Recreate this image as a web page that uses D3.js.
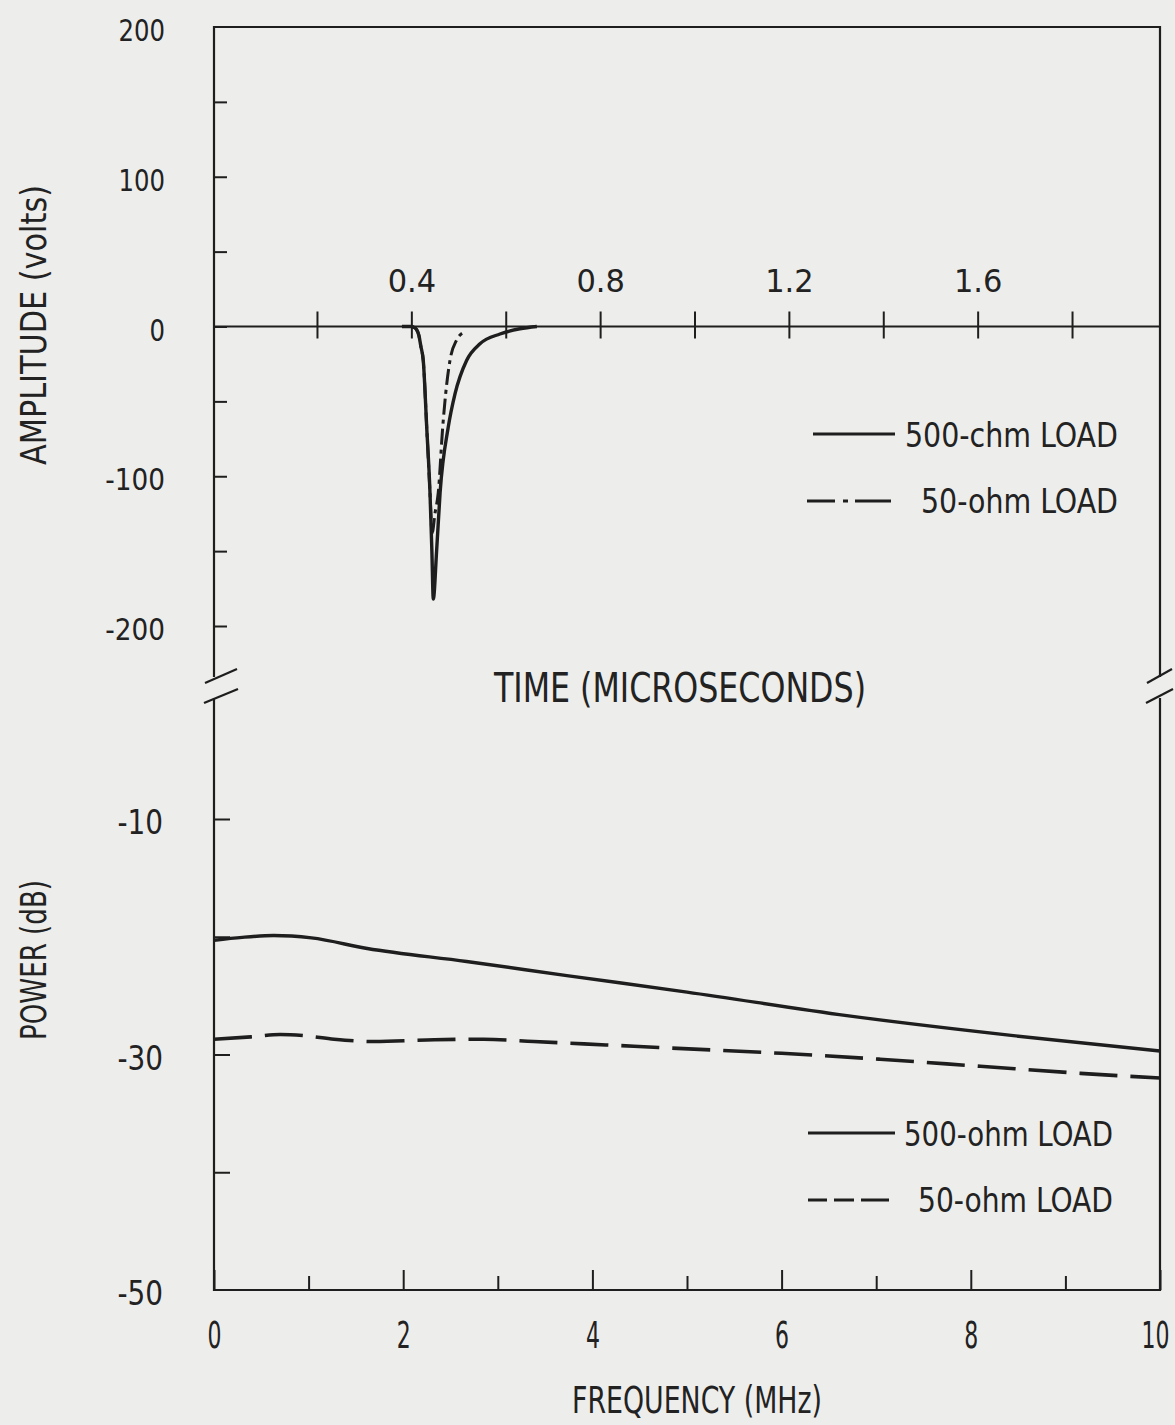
<!DOCTYPE html>
<html>
<head>
<meta charset="utf-8">
<script src="https://cdn.jsdelivr.net/npm/d3@7"></script>
<style>
  body { margin: 0; background: #ededeb; }
  svg { display: block; }
  text { font-family: "DejaVu Sans Condensed", "DejaVu Sans", "Liberation Sans", sans-serif; fill: #222; }
</style>
</head>
<body>
<div class="d3-container"></div>
<script>
// pulse response, time in microseconds, amplitude in volts
const pulseTime500 = [0.38, 0.400, 0.405, 0.411, 0.416, 0.420, 0.4253, 0.4325, 0.4395, 0.4435, 0.4465, 0.4535, 0.4609, 0.4783, 0.4925, 0.5173, 0.5455, 0.5878, 0.630, 0.666];
const pulseVolts500 = [0, 0, -0.5, -2, -6, -13, -23, -67, -111, -150, -182, -150, -111, -67, -45, -22.5, -11.5, -5, -1.5, 0];
const pulseTime50 = [0.400, 0.405, 0.411, 0.416, 0.420, 0.4253, 0.4325, 0.4395, 0.4440, 0.4500, 0.4570, 0.4665, 0.4727, 0.4819, 0.4960, 0.5100];
const pulseVolts50 = [0, -0.5, -2, -6, -13, -23, -67, -111, -138, -125, -111, -67, -45, -22.5, -9, -4];

// power spectrum, frequency in MHz, power in dB
const freq500 = [0, 0.3, 0.63, 1.03, 1.62, 2.67, 3.73, 5.0, 6.69, 8.45, 10];
const power500 = [-20.3, -20.05, -19.9, -20.1, -21.0, -22.1, -23.3, -24.7, -26.7, -28.4, -29.7];
const freq50 = [0, 0.39, 0.7, 0.95, 1.27, 1.69, 2.33, 2.85, 3.38, 3.91, 4.44, 4.96, 6.0, 7.04, 8.10, 9.16, 10];
const power50 = [-28.7, -28.5, -28.3, -28.4, -28.7, -28.9, -28.75, -28.7, -28.9, -29.1, -29.3, -29.5, -29.9, -30.4, -31.0, -31.6, -32.0];

// ticks and labels
const ampTicks = [150, 100, 50, 0, -50, -100, -150, -200];
const ampLabelValues = [200, 100, 0, -100, -200];
const ampLabels = ["200", "100", "0", "-100", "-200"];
const timeTicks = [0.2, 0.4, 0.6, 0.8, 1.0, 1.2, 1.4, 1.6, 1.8];
const timeLabels = {"0.4": "0.4", "0.8": "0.8", "1.2": "1.2", "1.6": "1.6"};
const powerTicks = [-10, -20, -30, -40];
const powerLabelValues = [-10, -30, -50];
const powerLabels = ["-10", "-30", "-50"];
const freqMinor = [1, 3, 5, 7, 9];
const freqMajor = [0, 2, 4, 6, 8, 10];
const legendTop = ["500-chm LOAD", "50-ohm LOAD"];
const legendBottom = ["500-ohm LOAD", "50-ohm LOAD"];

const width = 1175;
const height = 1425;
const left = 214, right = 1160;
const topPanel = {top: 27, bottom: 677};
const botPanel = {top: 698, bottom: 1290};

// narrow typewriter-like figures: width of a label from its characters
function labelWidth(s, digit) {
  let w = 0;
  for (const c of s) w += c === "-" ? digit * 0.85 : c === "." ? digit * 0.55 : digit;
  return w;
}

const svg = d3.select(".d3-container")
  .append("svg")
  .attr("width", width)
  .attr("height", height);

svg.append("rect").attr("width", width).attr("height", height).attr("fill", "#ededeb");

// scales
const x = d3.scaleLinear().domain([-0.0182, 1.9864]).range([left, right]);
const y = d3.scaleLinear().domain([200, -200]).range([27, 626]);
const xf = d3.scaleLinear().domain([0, 10]).range([left, right]);
const yp = d3.scaleLinear().domain([-10, -50]).range([819, 1290]);

const ink = "#1e1e1e";

// frame
const frame = svg.append("g").attr("stroke", ink).attr("stroke-width", 2.2).attr("fill", "none");
frame.append("path").attr("d", `M${left},${topPanel.bottom}V${topPanel.top}H${right}V${topPanel.bottom}`);
frame.append("path").attr("d", `M${left},${botPanel.top}V${botPanel.bottom}H${right}V${botPanel.top}`);
// axis break marks
[[left, -9, 23], [right, -13, 12]].forEach(([bx, a, b]) => {
  frame.append("line").attr("x1", bx + a).attr("y1", 683).attr("x2", bx + b).attr("y2", 669);
  frame.append("line").attr("x1", bx + a - 1).attr("y1", 703).attr("x2", bx + b + 1).attr("y2", 689);
});

// amplitude axis
svg.append("g")
  .attr("transform", `translate(${left},0)`)
  .call(d3.axisLeft(y).tickValues(ampTicks).tickSize(-13).tickFormat(""))
  .call(g => g.select(".domain").remove());
svg.append("g").selectAll("text")
  .data(ampLabelValues)
  .join("text")
  .attr("x", 165)
  .attr("y", d => y(d) + 14)
  .attr("text-anchor", "end")
  .attr("font-size", 30)
  .attr("textLength", (d, i) => labelWidth(ampLabels[i], 15.5))
  .attr("lengthAdjust", "spacingAndGlyphs")
  .text((d, i) => ampLabels[i]);

// zero line with time ticks
svg.append("line")
  .attr("x1", left).attr("x2", right)
  .attr("y1", y(0)).attr("y2", y(0))
  .attr("stroke", ink).attr("stroke-width", 2.2);
const timeAxis = svg.append("g")
  .attr("transform", `translate(0,${y(0)})`)
  .call(d3.axisTop(x).tickValues(timeTicks).tickSize(15).tickPadding(20)
    .tickFormat(d => timeLabels[d3.format(".1f")(d)] || ""))
  .call(g => g.select(".domain").remove());
svg.append("g")
  .attr("transform", `translate(0,${y(0)})`)
  .call(d3.axisBottom(x).tickValues(timeTicks).tickSize(12).tickFormat(""))
  .call(g => g.select(".domain").remove());

// power axis
svg.append("g")
  .attr("transform", `translate(${left},0)`)
  .call(d3.axisLeft(yp).tickValues(powerTicks).tickSize(-16).tickFormat(""))
  .call(g => g.select(".domain").remove());
svg.append("g").selectAll("text")
  .data(powerLabelValues)
  .join("text")
  .attr("x", 163)
  .attr("y", d => yp(d) + 15)
  .attr("text-anchor", "end")
  .attr("font-size", 34)
  .attr("textLength", (d, i) => labelWidth(powerLabels[i], 16))
  .attr("lengthAdjust", "spacingAndGlyphs")
  .text((d, i) => powerLabels[i]);

// frequency axis
svg.append("g")
  .attr("transform", `translate(0,${botPanel.bottom})`)
  .call(d3.axisBottom(xf).tickValues(freqMinor).tickSize(-14).tickFormat(""))
  .call(g => g.select(".domain").remove());
const freqAxis = svg.append("g")
  .attr("transform", `translate(0,${botPanel.bottom})`)
  .call(d3.axisBottom(xf).tickValues(freqMajor).tickSize(-20).tickPadding(32))
  .call(g => g.select(".domain").remove());

// axis styling
svg.selectAll(".tick line").attr("stroke", ink).attr("stroke-width", 2);
timeAxis.selectAll(".tick text")
  .attr("font-family", null).attr("font-size", null)
  .style("font-size", "32px").style("fill", "#222")
  .attr("textLength", function() { const s = this.textContent; return s ? labelWidth(s, 19) : null; })
  .attr("lengthAdjust", "spacingAndGlyphs");
// frequency digits are tall and narrow: squeeze them horizontally about the tick
freqAxis.selectAll(".tick text")
  .attr("font-family", null).attr("font-size", null)
  .style("font-size", "37px").style("fill", "#222")
  .attr("transform", function(d) {
    const sx = labelWidth(this.textContent, 14) / this.getComputedTextLength();
    return `translate(${d === 10 ? -5 : 0},0) scale(${sx},1)`;
  });

// curves
const linePulse = d3.line().x(d => x(d[0])).y(d => y(d[1])).curve(d3.curveMonotoneX);
const linePower = d3.line().x(d => xf(d[0])).y(d => yp(d[1])).curve(d3.curveMonotoneX);

svg.append("path")
  .attr("d", linePulse(d3.zip(pulseTime500, pulseVolts500)))
  .attr("fill", "none").attr("stroke", ink).attr("stroke-width", 3.4);
svg.append("path")
  .attr("d", linePulse(d3.zip(pulseTime50, pulseVolts50)))
  .attr("fill", "none").attr("stroke", ink).attr("stroke-width", 3)
  .attr("stroke-dasharray", "16,5,4,5");

svg.append("path")
  .attr("d", linePower(d3.zip(freq500, power500)))
  .attr("fill", "none").attr("stroke", ink).attr("stroke-width", 3.4);
svg.append("path")
  .attr("d", linePower(d3.zip(freq50, power50)))
  .attr("fill", "none").attr("stroke", ink).attr("stroke-width", 3.6)
  .attr("stroke-dasharray", "38,13");

// legends
const lg = svg.append("g").attr("stroke", ink).attr("stroke-width", 3);
lg.append("line").attr("x1", 813).attr("x2", 895).attr("y1", 434).attr("y2", 434);
lg.append("line").attr("x1", 807).attr("x2", 891).attr("y1", 501).attr("y2", 501)
  .attr("stroke-dasharray", "28,8,5,7,36");
lg.append("line").attr("x1", 808).attr("x2", 895).attr("y1", 1133).attr("y2", 1133);
lg.append("line").attr("x1", 808).attr("x2", 889).attr("y1", 1200).attr("y2", 1200)
  .attr("stroke-dasharray", "19,7,20,7,28");

const legendText = [
  {t: legendTop[0], x: 905, y: 447, w: 213},
  {t: legendTop[1], x: 921, y: 513, w: 197},
  {t: legendBottom[0], x: 904, y: 1146, w: 209},
  {t: legendBottom[1], x: 918, y: 1212, w: 195}
];
svg.append("g").selectAll("text")
  .data(legendText)
  .join("text")
  .attr("x", d => d.x).attr("y", d => d.y)
  .attr("font-size", 33)
  .attr("textLength", d => d.w)
  .attr("lengthAdjust", "spacingAndGlyphs")
  .text(d => d.t);

// axis titles
svg.append("text")
  .attr("x", 680).attr("y", 702)
  .attr("text-anchor", "middle")
  .attr("font-size", 40)
  .attr("textLength", 372).attr("lengthAdjust", "spacingAndGlyphs")
  .text("TIME (MICROSECONDS)");
svg.append("text")
  .attr("x", 697).attr("y", 1413)
  .attr("text-anchor", "middle")
  .attr("font-size", 37)
  .attr("textLength", 250).attr("lengthAdjust", "spacingAndGlyphs")
  .text("FREQUENCY (MHz)");
svg.append("text")
  .attr("transform", "translate(46,325)rotate(-90)")
  .attr("text-anchor", "middle")
  .attr("font-size", 35)
  .attr("textLength", 280).attr("lengthAdjust", "spacingAndGlyphs")
  .text("AMPLITUDE (volts)");
svg.append("text")
  .attr("transform", "translate(46,960)rotate(-90)")
  .attr("text-anchor", "middle")
  .attr("font-size", 35)
  .attr("textLength", 160).attr("lengthAdjust", "spacingAndGlyphs")
  .text("POWER (dB)");
</script>
</body>
</html>
